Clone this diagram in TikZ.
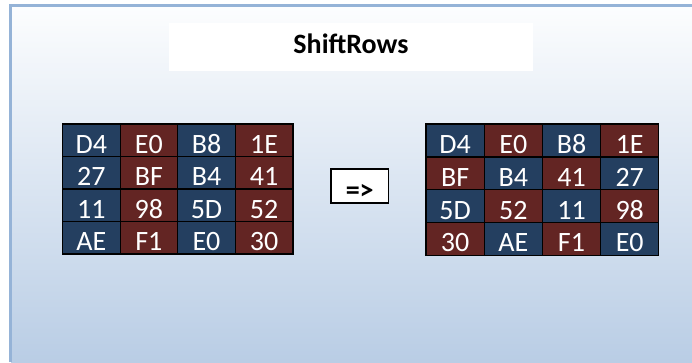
\documentclass[tikz,border=0pt]{standalone}
\usepackage{fontspec}
\setmainfont{Carlito}
\definecolor{cblue}{HTML}{243F60}
\definecolor{cred}{HTML}{632523}
\definecolor{edge}{HTML}{95B3D7}
\definecolor{bgtop}{HTML}{FCFDFE}
\definecolor{bgmid}{HTML}{E8EEF6}
\definecolor{bgbot}{HTML}{B9CDE5}
\newcommand{\cellfont}{\fontsize{28}{30}\selectfont}
\tikzset{
  cell/.style={draw=black, line width=1.2pt, inner sep=0pt, text=white,
    font=\cellfont, text height=26pt, text depth=0.5pt},
  cella/.style={cell, minimum width=57.6pt, minimum height=32.5pt},
  cellb/.style={cell, minimum width=58.2pt, minimum height=32.9pt},
}
\begin{document}
\begin{tikzpicture}[x=1pt, y=-1pt]
        \useasboundingbox (0, 0) rectangle (692, 362);
        % slide background
        \shade[top color=bgtop, middle color=bgmid, bottom color=bgbot]
            (11, 7) rectangle (692, 362);
        \draw[edge, line width=3pt] (10, 362)--(10, 5.5)--(692, 5.5);

        \node[fill=white, minimum width=364pt, minimum height=48pt, inner sep=0pt,
            font=\cellfont\bfseries, text height=12pt, text depth=0pt] (title) at (351, 47) {ShiftRows};

        % state before
        \foreach \a/\b/\c/\d [count=\r] in {D4/E0/B8/1E, 27/BF/B4/41, 11/98/5D/52, AE/F1/E0/30} {
            \node[cella, fill=cblue] (sa-\r-1) at (91.3, 107.75+32.5*\r) {\a};
            \node[cella, fill=cred] (sa-\r-2) at (148.9, 107.75+32.5*\r) {\b};
            \node[cella, fill=cblue] (sa-\r-3) at (206.5, 107.75+32.5*\r) {\c};
            \node[cella, fill=cred] (sa-\r-4) at (264.1, 107.75+32.5*\r) {\d};
        }

        \node[draw=black, fill=white, line width=1.5pt, minimum width=57.3pt, minimum height=33.7pt,
            inner sep=0pt, font=\cellfont\bfseries, text height=26.3pt, text depth=0pt] (shift) at (359.7, 185.9) {=>};

        % state after
        \foreach \a/\b/\c/\d/\p/\q [count=\r] in {D4/E0/B8/1E/cblue/cred, BF/B4/41/27/cred/cblue,
                5D/52/11/98/cblue/cred, 30/AE/F1/E0/cred/cblue} {
            \node[cellb, fill=\p] (sb-\r-1) at (455.1, 107.55+32.9*\r) {\a};
            \node[cellb, fill=\q] (sb-\r-2) at (513.3, 107.55+32.9*\r) {\b};
            \node[cellb, fill=\p] (sb-\r-3) at (571.5, 107.55+32.9*\r) {\c};
            \node[cellb, fill=\q] (sb-\r-4) at (629.7, 107.55+32.9*\r) {\d};
        }
    \end{tikzpicture}
\end{document}
